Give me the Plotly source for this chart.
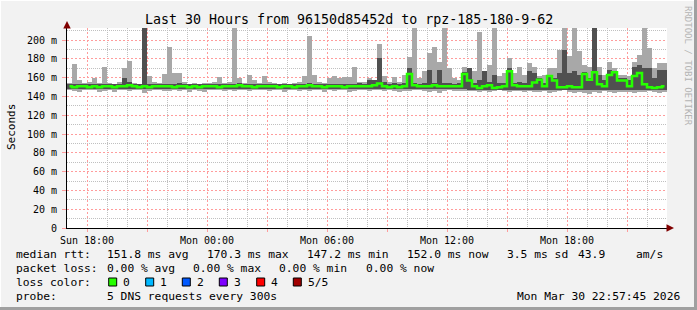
import plotly.graph_objects as go
import pandas as pd

# ---------------- data (15-minute bins, 30 hours) ----------------
start_time = "2026-03-29 17:00"
end_time = "2026-03-30 23:00"
bin_minutes = 15

median_rtt = [
    151,150,151,151,150,151,150,151,151,150,151,151,152,151,150,151,150,151,151,151,
    151,150,151,151,150,151,150,151,151,151,150,151,151,151,152,151,151,150,151,151,
    151,151,150,151,151,150,151,151,152,151,151,150,151,151,151,150,151,151,151,151,
    151,152,154,151,150,151,150,151,164,152,151,151,151,152,151,151,151,151,151,164,
    157,151,149,151,152,149,150,151,167,152,151,151,151,155,158,151,162,157,150,150,
    151,150,150,164,158,166,153,151,163,166,157,157,151,162,165,153,150,149,150,151,
]
smoke_min = [
    147,146,145,147,147,147,145,146,147,145,147,147,146,147,147,144,146,147,147,146,
    146,147,146,147,145,147,146,145,147,147,147,146,147,146,147,147,146,147,147,147,
    146,147,147,145,147,147,146,147,146,147,147,145,147,146,147,147,145,146,147,147,
    146,147,147,146,147,146,145,146,146,147,147,146,145,146,144,146,147,146,146,146,
    146,146,145,146,145,146,147,146,145,146,146,145,146,145,145,146,144,145,146,147,
    145,144,145,144,143,145,144,146,145,144,145,145,145,144,145,145,146,145,144,145,
]
smoke_max = [
    154,175,158,154,155,160,154,171,154,153,155,170,178,154,153,215,162,156,154,164,
    193,165,165,156,153,154,153,154,154,156,161,154,156,215,160,154,163,158,154,162,
    156,154,153,154,153,154,155,162,205,163,155,154,160,162,160,161,161,171,155,156,
    160,158,196,162,155,161,155,163,182,215,160,167,186,193,177,215,170,160,158,171,
    170,167,209,167,174,215,162,165,181,165,172,163,176,172,162,163,170,170,190,215,
    183,215,188,174,172,215,172,163,177,170,163,163,162,177,184,215,192,170,176,176,
]
core_low = [
    148,148,148,148,148,148,148,148,148,148,148,148,148,148,148,148,148,148,148,148,
    148,148,148,148,148,148,148,148,148,148,148,148,148,148,148,148,148,148,148,148,
    148,148,148,148,148,148,148,148,148,148,148,148,148,148,148,148,148,148,148,148,
    148,148,148,148,148,148,148,148,148,148,148,148,148,148,148,148,148,148,148,148,
    147,147,147,147,147,147,147,147,147,147,147,147,147,147,147,147,147,147,147,147,
    147,147,147,147,147,147,147,147,147,147,147,147,147,147,147,147,147,147,147,147,
]
core_high = [
    153,153,153,153,153,153,153,153,153,153,153,160,156,153,153,215,153,153,153,153,
    153,153,154,153,153,153,153,153,153,153,153,153,153,153,154,153,153,153,153,153,
    153,153,153,153,153,153,153,153,154,153,153,153,153,153,153,153,153,153,154,153,
    158,158,181,155,153,154,153,154,170,154,153,154,168,154,168,154,154,153,154,166,
    170,154,158,167,156,163,154,154,170,154,156,154,167,165,160,154,163,160,165,190,
    165,167,163,166,160,215,163,158,168,167,160,160,158,172,174,170,170,160,168,168,
]

tick_times = ["2026-03-29 18:00", "2026-03-29 21:00", "2026-03-30 00:00", "2026-03-30 03:00",
              "2026-03-30 06:00", "2026-03-30 09:00", "2026-03-30 12:00", "2026-03-30 15:00",
              "2026-03-30 18:00", "2026-03-30 21:00"]
tick_text = ["Sun 18:00", "", "Mon 00:00", "", "Mon 06:00", "", "Mon 12:00", "", "Mon 18:00", ""]
y_tick_vals = [0, 20, 40, 60, 80, 100, 120, 140, 160, 180, 200]
y_tick_text = ["0", "20 m", "40 m", "60 m", "80 m", "100 m", "120 m", "140 m", "160 m", "180 m", "200 m"]

title_text = "Last 30 Hours from 96150d85452d to rpz-185-180-9-62"
rtt_label = "median rtt:"
rtt_stats = ["151.8 ms avg", "170.3 ms max", "147.2 ms min", "152.0 ms now", "3.5 ms sd"]
rtt_extra = ["43.9", "am/s"]
loss_label = "packet loss:"
loss_stats = ["0.00 % avg", "0.00 % max", "0.00 % min", "0.00 % now"]
color_label = "loss color:"
loss_names = ["0", "1", "2", "3", "4", "5/5"]
loss_colors = ["#26ff00", "#00b8ff", "#0059ff", "#7e00ff", "#ff0000", "#a10000"]
probe_label = "probe:"
probe_text = "5 DNS requests every 300s"
stamp_text = "Mon Mar 30 22:57:45 2026"

# ---------------- figure ----------------
t0 = pd.Timestamp(start_time)
step = pd.Timedelta(minutes=bin_minutes)
centers = [t0 + step * i + step / 2 for i in range(len(median_rtt))]
bar_w = bin_minutes * 60 * 1000

# minor grid positions (hours that are not on the 3-hour major grid)
hours = pd.date_range(start_time, end_time, freq="1h")
x_minor = [h for h in hours if h.hour % 3 != 0]
y_minor = [v for v in range(10, 220, 20)]

W, H = 697, 310
L, R, T, B = 67, 667, 28, 228
FONT = "DejaVu Sans Mono"


def xp(px):
    return (px - L) / (R - L)


def yp(py):
    return (B - py) / (B - T)


fig = go.Figure()
fig.add_bar(x=centers, y=[h - l for h, l in zip(smoke_max, smoke_min)], base=smoke_min,
            width=bar_w, marker=dict(color="#a8a8a8", line=dict(width=0)), hoverinfo="skip")
fig.add_bar(x=centers, y=[h - l for h, l in zip(core_high, core_low)], base=core_low,
            width=bar_w, marker=dict(color="#505050", line=dict(width=0)), hoverinfo="skip")
fig.add_scatter(x=centers, y=median_rtt, mode="lines",
                line=dict(color=loss_colors[0], width=2.5, shape="hvh"))

red_grid = "#ff9c9c"
grey_grid = "#c0c0c0"

fig.update_layout(
    width=W, height=H, showlegend=False, barmode="overlay", bargap=0,
    margin=dict(l=L, r=W - R, t=T, b=H - B, pad=0),
    paper_bgcolor="#f2f2f2", plot_bgcolor="white",
    font=dict(family=FONT, color="black"),
    xaxis=dict(type="date", range=[start_time, end_time], tickmode="array",
               tickvals=tick_times, ticktext=tick_text,
               showgrid=True, gridcolor=red_grid, griddash="2px,2px", gridwidth=1,
               minor=dict(tickmode="array", tickvals=x_minor, showgrid=True,
                          gridcolor=grey_grid, griddash="1px,1px", ticks=""),
               ticks="outside", ticklen=3, tickcolor=red_grid,
               showline=True, linecolor="black", linewidth=1, zeroline=False,
               tickfont=dict(family=FONT, size=10, color="black")),
    yaxis=dict(range=[0, 213], tickmode="array", tickvals=y_tick_vals, ticktext=y_tick_text,
               showgrid=True, gridcolor=red_grid, griddash="2px,2px", gridwidth=1,
               minor=dict(tickmode="array", tickvals=y_minor, showgrid=True,
                          gridcolor=grey_grid, griddash="1px,1px", ticks=""),
               ticks="outside", ticklen=4, tickcolor=red_grid, ticklabelstandoff=3,
               showline=True, linecolor="black", linewidth=1, zeroline=False,
               tickfont=dict(family=FONT, size=10, color="black")),
)


def txt(text, px, py, size=11.3, anchor="left", color="black", angle=0):
    fig.add_annotation(text=text, x=xp(px), y=yp(py), xref="paper", yref="paper",
                       xanchor=anchor, yanchor="middle", showarrow=False, textangle=angle,
                       borderpad=0, borderwidth=0,
                       font=dict(family=FONT, size=size, color=color))


# title and axis label
txt(title_text, 348.5, 19, size=13.3, anchor="center")
txt("Seconds", 11, 127, size=11, anchor="center", angle=-90)
txt("RRDTOOL / TOBI OETIKER", 688, 66, size=9, anchor="center", color="#b4b4b4", angle=90)

# legend lines
row_y = [254.5, 268, 282, 296]
txt(rtt_label, 16, row_y[0])
for s, px in zip(rtt_stats, [107, 207, 307, 407, 507]):
    txt(s, px, row_y[0])
txt(rtt_extra[0], 578, row_y[0])
txt(rtt_extra[1], 636, row_y[0])

txt(loss_label, 16, row_y[1])
for s, px in zip(loss_stats, [107, 193, 279, 366]):
    txt(s, px, row_y[1])

txt(color_label, 16, row_y[2])
box_x = [108.7, 145.7, 182.3, 219.3, 256.7, 293.3]
for name, col, bx in zip(loss_names, loss_colors, box_x):
    fig.add_shape(type="rect", xref="paper", yref="paper",
                  x0=xp(bx), x1=xp(bx + 8), y0=yp(row_y[2] + 4), y1=yp(row_y[2] - 4),
                  fillcolor=col, line=dict(color="black", width=1))
    txt(name, bx + 14.5, row_y[2])

txt(probe_label, 16, row_y[3])
txt(probe_text, 107, row_y[3])
txt(stamp_text, 680, row_y[3], anchor="right")

# axis arrows
fig.add_annotation(x=xp(L), y=yp(21), xref="paper", yref="paper", ax=0, ay=8,
                   showarrow=True, arrowhead=2, arrowsize=1, arrowwidth=1.5,
                   arrowcolor="#800000", text="")
fig.add_annotation(x=xp(674), y=yp(B), xref="paper", yref="paper", ax=-8, ay=0,
                   showarrow=True, arrowhead=2, arrowsize=1, arrowwidth=1.5,
                   arrowcolor="#800000", text="")

# image frame
fig.add_shape(type="line", xref="paper", yref="paper", x0=xp(0), x1=xp(W), y0=yp(0.5), y1=yp(0.5),
              line=dict(color="#ffffff", width=1))
fig.add_shape(type="line", xref="paper", yref="paper", x0=xp(0.5), x1=xp(0.5), y0=yp(0), y1=yp(H),
              line=dict(color="#ffffff", width=1))
fig.add_shape(type="line", xref="paper", yref="paper", x0=xp(W - 1.5), x1=xp(W - 1.5), y0=yp(0), y1=yp(H),
              line=dict(color="#a0a0a0", width=3))
fig.add_shape(type="line", xref="paper", yref="paper", x0=xp(0), x1=xp(W), y0=yp(H - 1.5), y1=yp(H - 1.5),
              line=dict(color="#a0a0a0", width=3))

fig.write_html("out.html")
